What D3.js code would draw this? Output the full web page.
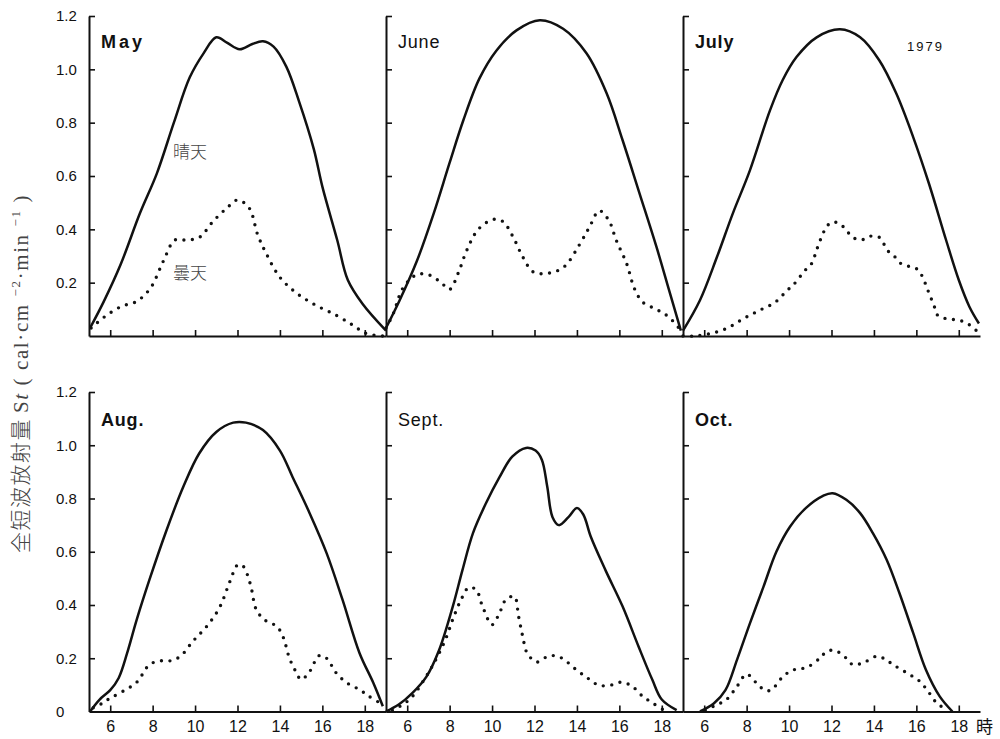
<!DOCTYPE html>
<html>
<head>
<meta charset="utf-8">
<script src="https://cdn.jsdelivr.net/npm/d3@7"></script>
<style>
  body { margin: 0; background: #fff; }
  svg { display: block; }
  .num { font-family: "Liberation Sans Narrow", "Liberation Sans", Arial, sans-serif; fill: #111; }
</style>
</head>
<body>
<div id="chart"></div>
<script>
// clear-sky (晴天) and cloudy (曇天) shortwave radiation, [hour, value]
const mayClear = [[5.05,0.03],[5.7,0.13],[6.5,0.27],[7.4,0.46],[8.2,0.61],[9.0,0.80],[9.75,0.97],[10.4,1.06],[11.0,1.12],[11.5,1.10],[12.1,1.075],[12.7,1.095],[13.2,1.105],[13.7,1.085],[14.3,1.01],[14.9,0.88],[15.6,0.70],[16.0,0.56],[16.7,0.36],[17.2,0.21],[17.9,0.12],[19.0,0.02]];
const mayCloudy = [[5.1,0.03],[5.7,0.07],[6.5,0.11],[7.25,0.13],[7.9,0.18],[8.5,0.28],[9.05,0.36],[9.6,0.36],[10.2,0.37],[10.85,0.43],[11.5,0.48],[12.0,0.51],[12.55,0.48],[12.95,0.38],[13.35,0.31],[14.0,0.22],[14.8,0.16],[15.7,0.115],[16.65,0.078],[17.45,0.04],[18.05,0.01],[18.85,0.0]];
const juneClear = [[5.0,0.03],[5.65,0.135],[6.45,0.28],[7.25,0.46],[8.0,0.65],[8.65,0.81],[9.4,0.965],[10.2,1.07],[11.15,1.146],[12.25,1.184],[13.35,1.152],[14.45,1.06],[15.4,0.91],[16.15,0.735],[16.95,0.535],[17.75,0.334],[18.35,0.17],[18.9,0.02]];
const juneCloudy = [[5.0,0.03],[5.35,0.085],[5.8,0.18],[6.45,0.23],[7.0,0.23],[7.6,0.2],[8.0,0.175],[8.4,0.235],[8.8,0.32],[9.35,0.4],[10.05,0.437],[10.5,0.43],[11.0,0.37],[11.45,0.296],[11.95,0.24],[12.7,0.236],[13.4,0.26],[14.1,0.34],[14.6,0.41],[15.05,0.47],[15.5,0.434],[15.85,0.36],[16.35,0.27],[16.7,0.18],[17.1,0.127],[17.75,0.1],[18.35,0.07],[18.9,0.02]];
const julyClear = [[5.0,0.02],[5.8,0.134],[6.6,0.296],[7.35,0.46],[8.15,0.62],[9.1,0.846],[9.7,0.96],[10.35,1.046],[11.3,1.12],[12.4,1.15],[13.35,1.12],[14.25,1.034],[15.05,0.91],[15.85,0.746],[16.6,0.57],[17.4,0.36],[18.0,0.21],[18.5,0.11],[18.95,0.047]];
const julyCloudy = [[5.0,0.0],[5.55,0.0],[6.35,0.01],[7.1,0.03],[7.85,0.065],[8.6,0.096],[9.35,0.127],[9.9,0.17],[10.25,0.196],[10.75,0.246],[11.05,0.27],[11.35,0.334],[11.7,0.4],[12.0,0.427],[12.4,0.42],[12.7,0.396],[13.0,0.37],[13.4,0.36],[13.8,0.374],[14.25,0.37],[14.65,0.32],[15.0,0.296],[15.3,0.27],[15.7,0.26],[16.0,0.253],[16.25,0.228],[16.55,0.17],[16.85,0.11],[17.0,0.078],[17.4,0.065],[17.9,0.06],[18.35,0.05],[18.9,0.015]];
const augClear = [[5.05,0.0],[5.5,0.045],[6.0,0.08],[6.4,0.126],[6.8,0.22],[7.25,0.345],[7.85,0.495],[8.65,0.68],[9.45,0.845],[10.2,0.97],[11.0,1.05],[11.8,1.085],[12.4,1.085],[13.2,1.057],[14.0,0.98],[14.6,0.88],[15.4,0.745],[16.2,0.595],[16.95,0.42],[17.75,0.22],[18.4,0.108],[18.85,0.02]];
const augCloudy = [[5.2,0.014],[5.6,0.03],[6.0,0.05],[6.6,0.076],[7.25,0.11],[7.85,0.176],[8.35,0.19],[8.8,0.19],[9.3,0.207],[9.9,0.264],[10.55,0.32],[11.15,0.39],[11.65,0.49],[12.0,0.55],[12.25,0.547],[12.6,0.48],[12.9,0.38],[13.35,0.34],[13.85,0.32],[14.15,0.28],[14.45,0.2],[14.75,0.15],[15.0,0.12],[15.4,0.15],[15.85,0.21],[16.2,0.2],[16.65,0.145],[17.15,0.108],[17.75,0.082],[18.2,0.057],[18.7,0.033]];
const septClear = [[5.0,0.0],[5.6,0.026],[6.25,0.07],[6.9,0.13],[7.5,0.23],[8.15,0.395],[8.6,0.53],[9.1,0.67],[9.7,0.78],[10.35,0.88],[10.95,0.957],[11.6,0.99],[12.05,0.98],[12.35,0.945],[12.6,0.845],[12.85,0.73],[13.15,0.70],[13.6,0.73],[14.0,0.764],[14.3,0.74],[14.65,0.657],[15.35,0.53],[16.15,0.395],[16.9,0.245],[17.55,0.12],[18.0,0.045],[18.7,0.005]];
const septCloudy = [[5.3,0.005],[5.8,0.026],[6.25,0.057],[6.8,0.12],[7.25,0.18],[7.8,0.27],[8.2,0.357],[8.6,0.43],[8.9,0.466],[9.25,0.457],[9.55,0.395],[10.0,0.326],[10.35,0.37],[10.65,0.42],[11.05,0.432],[11.25,0.357],[11.45,0.28],[11.65,0.22],[12.1,0.186],[12.55,0.204],[12.9,0.21],[13.3,0.2],[13.95,0.158],[14.55,0.123],[15.05,0.098],[15.65,0.1],[16.1,0.11],[16.6,0.095],[17.1,0.057],[17.55,0.033],[18.2,0.0]];
const octClear = [[5.8,0.0],[6.45,0.03],[7.0,0.08],[7.55,0.195],[8.15,0.33],[8.8,0.47],[9.4,0.6],[10.05,0.695],[10.8,0.765],[11.6,0.81],[12.05,0.82],[12.7,0.795],[13.35,0.745],[13.95,0.67],[14.6,0.57],[15.2,0.445],[15.85,0.295],[16.45,0.157],[17.1,0.057],[17.7,0.0]];
const octCloudy = [[6.05,0.005],[6.45,0.02],[7.05,0.045],[7.55,0.095],[8.0,0.14],[8.45,0.108],[8.85,0.08],[9.15,0.08],[9.65,0.126],[10.05,0.151],[10.45,0.161],[10.8,0.164],[11.45,0.2],[11.75,0.224],[12.15,0.23],[12.7,0.2],[13.0,0.176],[13.5,0.183],[14.1,0.207],[14.45,0.2],[14.9,0.176],[15.55,0.145],[16.15,0.114],[16.55,0.076],[16.95,0.033],[17.4,0.008]];

const months = ["May", "June", "July", "Aug.", "Sept.", "Oct."];
const monthBold = [true, false, true, true, false, true];
const clearSeries = [mayClear, juneClear, julyClear, augClear, septClear, octClear];
const cloudySeries = [mayCloudy, juneCloudy, julyCloudy, augCloudy, septCloudy, octCloudy];
const hourTicks = [6, 8, 10, 12, 14, 16, 18];
const valueTicks = [0.2, 0.4, 0.6, 0.8, 1.0, 1.2];
const valueTickLabels = ["0.2", "0.4", "0.6", "0.8", "1.0", "1.2"];

const width = 1000, height = 739;
const colLeft = [89, 386, 683];
const panelW = 297;
const rowBase = [336, 711.5];
const rowTop = [16, 392];

const svg = d3.select("#chart").append("svg")
  .attr("width", width).attr("height", height)
  .attr("viewBox", [0, 0, width, height]);

const line = d3.line()
  .x(d => d[0]).y(d => d[1])
  .curve(d3.curveCatmullRom.alpha(0.5));

months.forEach((m, i) => {
  const row = Math.floor(i / 3), col = i % 3;
  const x = d3.scaleLinear().domain([5, 19]).range([colLeft[col], colLeft[col] + panelW]);
  const y = d3.scaleLinear().domain([0, 1.2]).range([rowBase[row], rowTop[row]]);
  const g = svg.append("g");

  // x axis, ticks pointing up
  const xa = g.append("g")
    .attr("transform", `translate(0,${rowBase[row]})`)
    .call(d3.axisBottom(x).tickValues(hourTicks).tickSize(-6).tickSizeOuter(0)
      .tickPadding(9).tickFormat(row === 1 ? d3.format("d") : ""));
  xa.select(".domain").attr("stroke", "#111").attr("stroke-width", 2);
  xa.selectAll(".tick line").attr("stroke", "#111").attr("stroke-width", 1.6);
  xa.selectAll("text").attr("class", "num").attr("font-size", 16).attr("fill", "#111");

  // y axis line with inward ticks
  const ya = g.append("g")
    .attr("transform", `translate(${colLeft[col]},0)`)
    .call(d3.axisRight(y).tickValues(valueTicks).tickSize(6).tickSizeOuter(0).tickFormat(""));
  ya.select(".domain").attr("stroke", "#111").attr("stroke-width", 2);
  ya.selectAll(".tick line").attr("stroke", "#111").attr("stroke-width", 1.6);

  if (col === 0) {
    g.append("g").selectAll("text")
      .data(row === 1 ? [0].concat(valueTicks) : valueTicks)
      .join("text")
      .attr("class", "num")
      .attr("x", 56)
      .attr("y", d => y(d))
      .attr("dy", "0.35em")
      .attr("font-size", 15)
      .text(d => d === 0 ? "0" : valueTickLabels[valueTicks.indexOf(d)]);
  }

  g.append("path")
    .attr("d", line(clearSeries[i].map(d => [x(d[0]), y(d[1])])))
    .attr("fill", "none").attr("stroke", "#111").attr("stroke-width", 2.5)
    .attr("stroke-linejoin", "round");

  g.append("path")
    .attr("d", line(cloudySeries[i].map(d => [x(d[0]), y(d[1])])))
    .attr("fill", "none").attr("stroke", "#111").attr("stroke-width", 3.4)
    .attr("stroke-linecap", "round").attr("stroke-dasharray", "0 8.5");

  g.append("text")
    .attr("x", colLeft[col] + 12)
    .attr("y", rowTop[row] + (row === 0 ? 32 : 34))
    .attr("font-family", "'Liberation Sans', Arial, sans-serif")
    .attr("font-size", 18)
    .attr("letter-spacing", i === 0 ? 3 : 0.8)
    .attr("font-weight", monthBold[i] ? "bold" : "normal")
    .attr("fill", "#111")
    .text(m);
});

// year tag
svg.append("text")
  .attr("x", 907).attr("y", 51)
  .attr("font-family", "'Liberation Sans Narrow', 'Liberation Sans', Arial, sans-serif")
  .attr("font-size", 13).attr("letter-spacing", 2).attr("fill", "#111")
  .text("1979");

// series labels
const cjk = "'Noto Sans CJK JP', 'Noto Sans CJK SC', sans-serif";
svg.append("text").attr("x", 173).attr("y", 158)
  .attr("font-family", cjk).attr("font-weight", 300).attr("font-size", 17).attr("fill", "#444")
  .text("晴天");
svg.append("text").attr("x", 173).attr("y", 279)
  .attr("font-family", cjk).attr("font-weight", 300).attr("font-size", 17).attr("fill", "#444")
  .text("曇天");

// hour unit
svg.append("text").attr("x", 976).attr("y", 733)
  .attr("font-family", cjk).attr("font-size", 17).attr("fill", "#111")
  .text("時");

// y axis title (rotated)
const yt = svg.append("g").attr("transform", "translate(28,553) rotate(-90)");
yt.append("text")
  .attr("font-family", cjk).attr("font-weight", 300).attr("font-size", 21)
  .attr("letter-spacing", 1.5).attr("fill", "#444")
  .text("全短波放射量");
const lat = yt.append("text")
  .attr("x", 140)
  .attr("font-family", "'Liberation Serif', 'DejaVu Serif', serif")
  .attr("font-size", 21).attr("letter-spacing", 1.6).attr("fill", "#444");
lat.append("tspan").text("S");
lat.append("tspan").attr("font-style", "italic").text("t");
lat.append("tspan").text(" ( cal·cm ");
lat.append("tspan").attr("font-size", 13).attr("dy", -8).text("−2");
lat.append("tspan").attr("dy", 8).text("·min ");
lat.append("tspan").attr("font-size", 13).attr("dy", -8).text("−1");
lat.append("tspan").attr("dy", 8).text(" )");
</script>
</body>
</html>
